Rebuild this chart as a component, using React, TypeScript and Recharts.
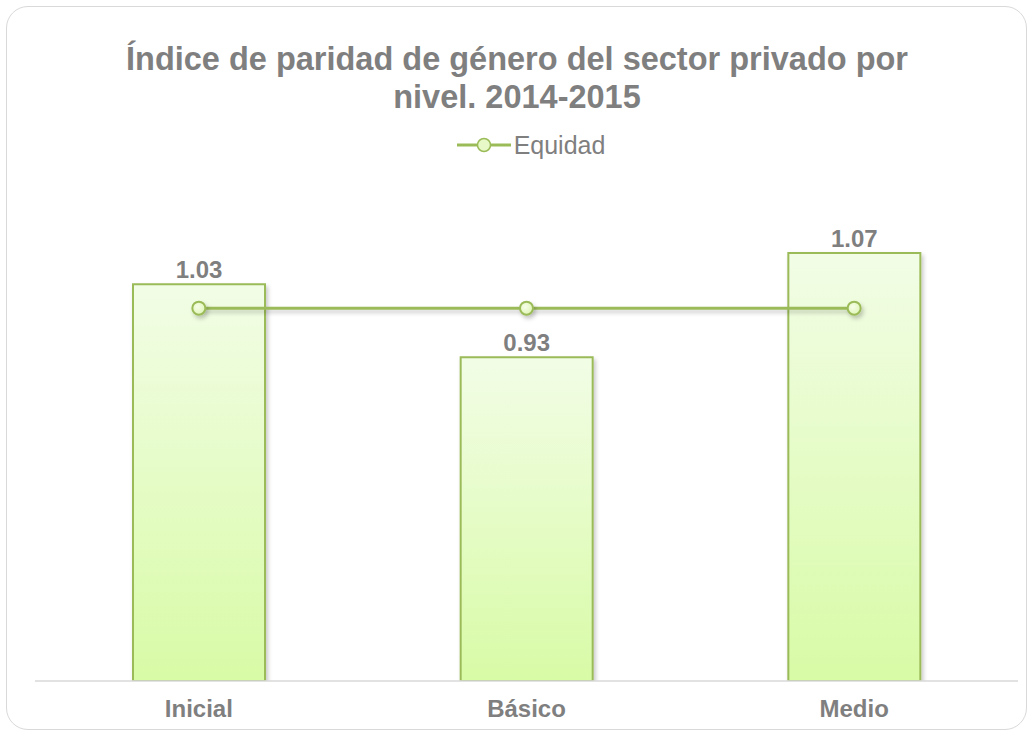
import React from "react";
import {
  Bar,
  ComposedChart,
  LabelList,
  Line,
  XAxis,
  YAxis,
} from "recharts";

const niveles = ["Inicial", "Básico", "Medio"];
const indice = [1.032, 0.934, 1.074];
const equidad = [1, 1, 1];

const data = niveles.map((nivel, i) => ({
  nivel,
  indice: indice[i],
  equidad: equidad[i],
}));

const GREEN = "#9BBB59";
const GRAY = "#7F7F7F";
const FONT = '"Liberation Sans", Arial, sans-serif';

function LegendEquidad() {
  return (
    <div
      style={{
        position: "absolute",
        left: 0,
        top: 130,
        width: 1034,
        display: "flex",
        justifyContent: "center",
        alignItems: "center",
        paddingLeft: 28,
        boxSizing: "border-box",
      }}
    >
      <svg width={54} height={18} style={{ marginRight: 3 }}>
        <line x1={0} y1={9} x2={54} y2={9} stroke={GREEN} strokeWidth={3} />
        <circle cx={27} cy={9} r={6.5} fill="#E6F9C6" stroke={GREEN} strokeWidth={1.5} />
      </svg>
      <span style={{ fontFamily: FONT, fontSize: 25, color: GRAY, lineHeight: "30px" }}>
        Equidad
      </span>
    </div>
  );
}

export default function App() {
  return (
    <div
      style={{
        position: "fixed",
        left: 0,
        top: 0,
        width: 1034,
        height: 733,
        background: "#fff",
      }}
    >
      <div
        style={{
          position: "absolute",
          left: 6,
          top: 6,
          width: 1019,
          height: 722,
          border: "1.5px solid #D9D9D9",
          borderRadius: 22,
        }}
      />
      <div
        style={{
          position: "absolute",
          left: 0,
          top: 40,
          width: 1034,
          textAlign: "center",
          fontFamily: FONT,
          fontWeight: "bold",
          fontSize: 32.5,
          lineHeight: "38px",
          color: GRAY,
        }}
      >
        Índice de paridad de género del sector privado por
        <br />
        nivel. 2014-2015
      </div>
      <LegendEquidad />
      <div style={{ position: "absolute", left: 0, top: 0 }}>
        <ComposedChart
          width={1034}
          height={733}
          data={data}
          margin={{ top: 159, right: 16, bottom: 22, left: 35 }}
        >
          <defs>
            <linearGradient id="barFill" x1="0" y1="0" x2="0" y2="1">
              <stop offset="0%" stopColor="#F2FDE6" />
              <stop offset="100%" stopColor="#D8FBA6" />
            </linearGradient>
            <radialGradient id="dotFill" cx="0.4" cy="0.4" r="0.7">
              <stop offset="0%" stopColor="#F6FDE9" />
              <stop offset="100%" stopColor="#DDF5B0" />
            </radialGradient>
            <filter
              id="shadow"
              filterUnits="userSpaceOnUse"
              x={0}
              y={0}
              width={1034}
              height={733}
            >
              <feDropShadow dx={2} dy={3} stdDeviation={2} floodColor="#000" floodOpacity={0.22} />
            </filter>
          </defs>
          <XAxis
            dataKey="nivel"
            axisLine={{ stroke: "#D9D9D9", strokeWidth: 1.5 }}
            tickLine={false}
            tickMargin={13}
            tick={{ fill: GRAY, fontSize: 24, fontWeight: "bold", fontFamily: FONT }}
          />
          <YAxis hide domain={[0.5, 1.2]} allowDataOverflow />
          <Bar
            dataKey="indice"
            barSize={132}
            fill="url(#barFill)"
            stroke={GREEN}
            strokeWidth={2}
            filter="url(#shadow)"
            isAnimationActive={false}
          >
            <LabelList
              dataKey="indice"
              position="top"
              offset={6}
              formatter={(v: any) => Number(v).toFixed(2)}
              style={{ fill: GRAY, fontSize: 24, fontWeight: "bold", fontFamily: FONT }}
            />
          </Bar>
          <Line
            dataKey="equidad"
            type="linear"
            stroke={GREEN}
            strokeWidth={3}
            filter="url(#shadow)"
            dot={{ r: 6.5, fill: "url(#dotFill)", stroke: GREEN, strokeWidth: 2 }}
            activeDot={false}
            isAnimationActive={false}
          />
        </ComposedChart>
      </div>
    </div>
  );
}
